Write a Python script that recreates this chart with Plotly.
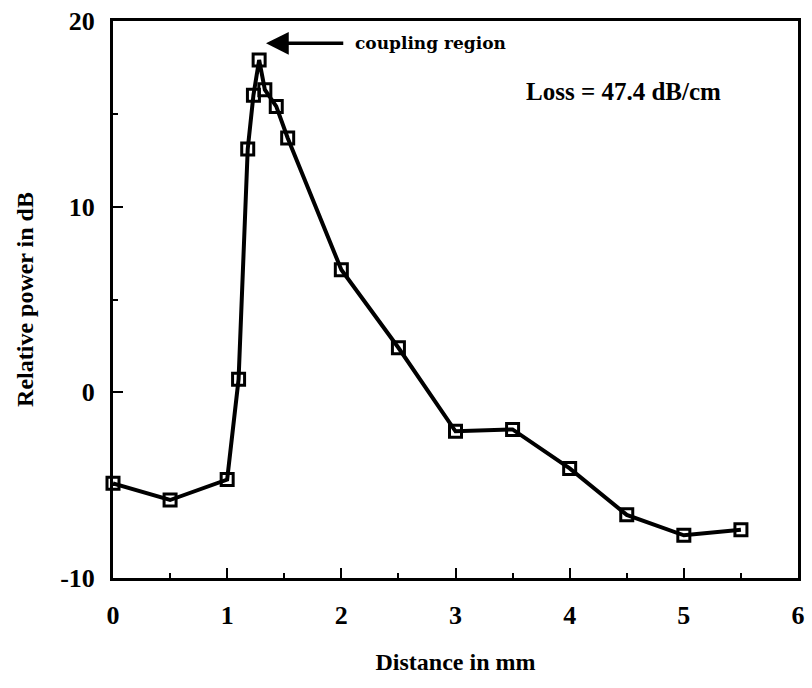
import plotly.graph_objects as go

distance_mm = [0.0, 0.5, 1.0, 1.1, 1.18, 1.23, 1.28, 1.33, 1.43, 1.53, 2.0, 2.5, 3.0, 3.5, 4.0, 4.5, 5.0, 5.5]
power_db = [-4.9, -5.8, -4.7, 0.7, 13.1, 16.0, 17.9, 16.3, 15.4, 13.7, 6.6, 2.4, -2.1, -2.0, -4.1, -6.6, -7.7, -7.4]
x_ticks = [0, 1, 2, 3, 4, 5, 6]
y_ticks = [-10, 0, 10, 20]
y_tick_text = ["-10", "0", "10", "20"]

FONT = "Liberation Serif"

fig = go.Figure()
fig.add_trace(go.Scatter(
    x=distance_mm, y=power_db, mode="lines+markers",
    line=dict(color="black", width=4),
    marker=dict(symbol="square-open", size=12, color="black", line=dict(width=3, color="black")),
    showlegend=False, cliponaxis=False,
))

axis_common = dict(
    showgrid=False, zeroline=False, showline=True, linecolor="black", linewidth=3,
    mirror=True, ticks="inside", tickcolor="black", tickwidth=2,
    tickfont=dict(family=FONT, size=26, color="black", weight="bold"),
)

fig.update_xaxes(
    range=[0, 6], tickvals=x_ticks, ticklen=10,
    minor=dict(dtick=0.5, ticks="inside", ticklen=5, tickwidth=2, tickcolor="black"),
    ticklabelstandoff=12,
    title=dict(text="Distance in mm", font=dict(family=FONT, size=24, color="black", weight="bold"), standoff=24),
    **axis_common,
)
fig.update_yaxes(
    range=[-10, 20], tickvals=y_ticks, ticktext=y_tick_text, ticklen=10,
    minor=dict(dtick=5, ticks="inside", ticklen=5, tickwidth=2, tickcolor="black"),
    ticklabelstandoff=10,
    title=dict(text="Relative power in dB", font=dict(family=FONT, size=24, color="black", weight="bold"), standoff=20),
    **axis_common,
)

fig.add_annotation(
    x=1.34, y=18.8, ax=2.03, ay=18.8, xref="x", yref="y", axref="x", ayref="y",
    showarrow=True, arrowhead=2, arrowsize=1.3, arrowwidth=3.5, arrowcolor="black", text="",
)
fig.add_annotation(
    x=2.1, y=18.8, xref="x", yref="y", text="coupling region", showarrow=False,
    xanchor="left", font=dict(family="DejaVu Serif", size=17, color="black", weight="bold"),
)
fig.add_annotation(
    x=3.6, y=16.2, xref="x", yref="y", text="Loss = 47.4 dB/cm", showarrow=False,
    xanchor="left", font=dict(family=FONT, size=25, color="black", weight="bold"),
)

fig.update_layout(
    width=812, height=688,
    margin=dict(l=113, r=7, t=19, b=110),
    paper_bgcolor="white", plot_bgcolor="white",
)

fig.write_html("out.html")
